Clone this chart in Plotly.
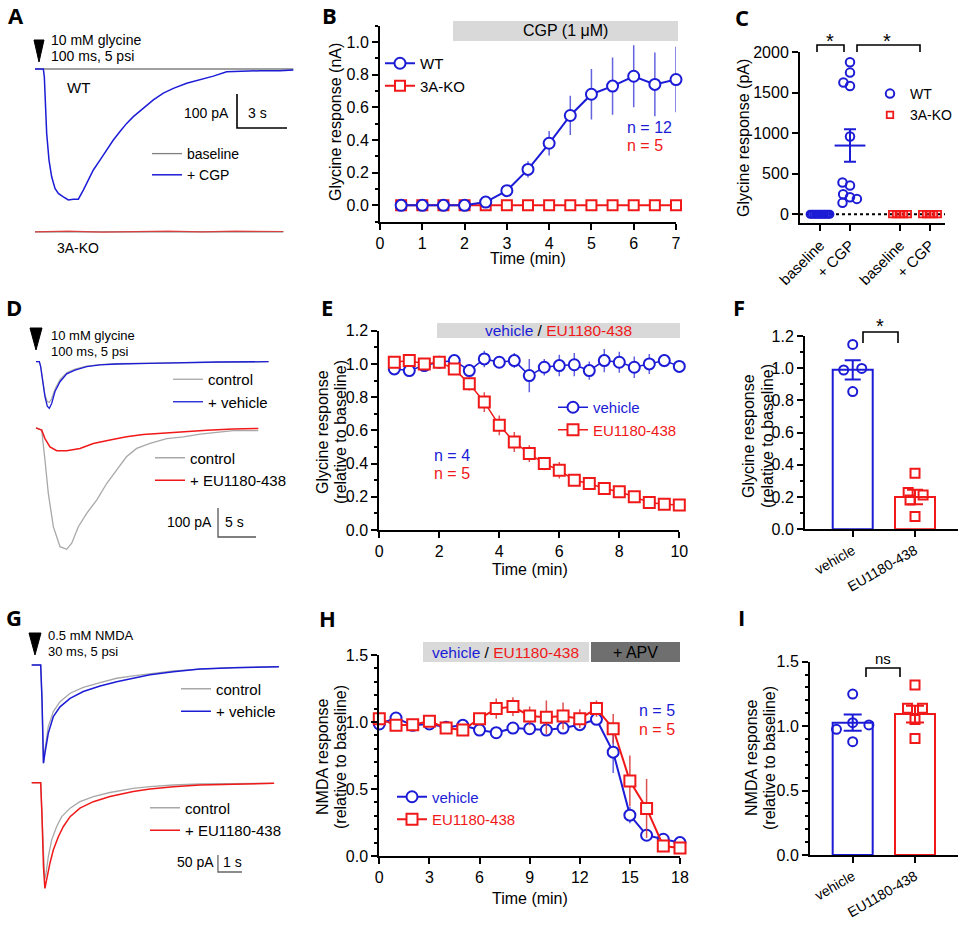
import plotly.graph_objects as go

# ============================ DATA ============================
# Panel A - example glycine currents (time in s, current in pA)
a_time = [0, 0.5, 0.56, 0.6, 0.7, 0.84, 1.0, 1.2, 1.4, 1.7, 2.0, 2.3, 2.6, 2.9, 3.2, 3.5, 3.9,
          4.3, 4.7, 5.1, 5.5, 5.9, 6.5, 7.1, 7.7, 8.3, 9.1, 9.9, 10.7, 11.5, 12.3, 13.5, 14.7, 15.5]
a_wt_cgp = [0, 0, -23, -91, -189, -268, -317, -351, -366, -376, -385, -383, -383, -356, -326, -297, -268,
            -238, -209, -184, -160, -140, -116, -91, -71, -57, -42, -32, -21, -8, -6, -5, -5, -3]
a_wt_base_time = [0, 15.5]
a_wt_base = [0, 0]
a_ko_time = [0, 2, 4, 6, 8, 10, 12, 14.9]
a_ko_base = [0, 0, 0, 0, 0, 0, 0, 0]
a_ko_cgp = [0, 2, -1, 1, 2, 0, 2, 1]

# Panel B - time course (nA)
b_time = [0.5, 1, 1.5, 2, 2.5, 3, 3.5, 4, 4.5, 5, 5.5, 6, 6.5, 7]
b_wt = [0.0, 0.0, 0.0, 0.0, 0.02, 0.09, 0.22, 0.38, 0.55, 0.68, 0.73, 0.79, 0.74, 0.77]
b_wt_sem = [0, 0, 0, 0, 0.01, 0.015, 0.05, 0.075, 0.12, 0.155, 0.175, 0.19, 0.195, 0.20]
b_ko = [0, 0, 0, 0, 0, 0, 0, 0, 0, 0, 0, 0, 0, 0]

# Panel C - individual responses (pA)
c_labels = ['baseline', '+ CGP', 'baseline', '+ CGP']
c_wt_baseline = [0, 0, 0, 0, 0, 0, 0, 0, 0, 0, 0, 0]
c_wt_cgp = [1877, 1749, 1626, 1584, 959, 391, 354, 247, 210, 140, 189]
c_wt_cgp_mean = [848]
c_wt_cgp_sem = [200]
c_ko_baseline = [0, 0, 0, 0, 0]
c_ko_cgp = [0, 0, 0, 0, 0]

# Panel D - example currents (s, pA)
d_top_time = [0, 0.44, 0.61, 0.88, 1.18, 1.49, 1.75, 2.06, 2.5, 3.16, 4.04, 5.13, 6.67, 8.42, 10.6, 15.0, 19.4, 23.8, 30.6]
d_vehicle = [0, 0, -17, -75, -121, -153, -161, -144, -103, -69, -42, -29, -17, -11, -8, -6, -3, -1, 0]
d_vehicle_ctrl = [0, 0, -15, -70, -115, -138, -140, -128, -95, -62, -38, -26, -15, -10, -7, -5, -3, -1, 0]
d_eu_time = [0, 0.75, 1.18, 1.84, 2.72, 4.04, 5.79, 7.54, 9.74, 11.9, 14.1, 17.2, 19.8, 22.5, 25.96, 29.25]
d_eu = [0, -8, -37, -66, -79, -79, -71, -54, -42, -31, -23, -17, -11, -8, -4, -2]
d_eu_ctrl_time = [0, 0.75, 1.18, 1.62, 2.28, 3.16, 4.04, 4.7, 5.57, 6.67, 7.98, 9.3, 10.6, 11.9, 13.25, 15.0,
                  17.2, 19.4, 21.6, 23.8, 25.96, 29.25]
d_eu_ctrl = [0, -8, -111, -226, -341, -410, -419, -398, -341, -295, -249, -192, -146, -100, -71, -54,
             -37, -31, -22, -17, -10, -10]

# Panel E - time course (relative to baseline)
e_time = [0.5, 1, 1.5, 2, 2.5, 3, 3.5, 4, 4.5, 5, 5.5, 6, 6.5, 7, 7.5, 8, 8.5, 9, 9.5, 10]
e_vehicle = [0.97, 0.96, 0.99, 1.01, 1.02, 0.96, 1.03, 1.01, 1.02, 0.93, 0.98, 0.99, 0.995, 0.96, 1.02, 1.01, 0.98, 1.00, 1.02, 0.985]
e_vehicle_sem = [0.015, 0.015, 0.015, 0.015, 0.02, 0.02, 0.05, 0.02, 0.045, 0.1, 0.05, 0.065, 0.07, 0.055, 0.07, 0.063, 0.065, 0.06, 0.04, 0.035]
e_eu = [1.01, 1.02, 1.00, 1.01, 0.97, 0.88, 0.77, 0.63, 0.53, 0.46, 0.40, 0.36, 0.30, 0.28, 0.25, 0.23, 0.20, 0.165, 0.155, 0.15]
e_eu_sem = [0.01, 0.01, 0.01, 0.01, 0.02, 0.04, 0.06, 0.06, 0.06, 0.05, 0.04, 0.05, 0.03, 0.03, 0.03, 0.02, 0.02, 0.02, 0.02, 0.02]

# Panel F - summary (relative to baseline)
f_labels = ['vehicle', 'EU1180-438']
f_vehicle = [1.148, 0.989, 0.999, 0.855]
f_eu = [0.348, 0.228, 0.213, 0.182, 0.079]
f_means = [0.99, 0.20]
f_sems = [0.06, 0.045]

# Panel G - example NMDA currents (s, pA)
g_top_time = [0, 0.375, 0.43, 0.46, 0.49, 0.55, 0.69, 0.9, 1.18, 1.6, 2.15, 2.85, 3.54, 4.23, 4.93, 5.9, 7.01, 8.4, 10.3]
g_vehicle = [0, 0, -103, -201, -289, -260, -201, -152, -123, -98, -78, -62, -49, -39, -29, -20, -12, -8, -5]
g_vehicle_ctrl = [0, 0, -103, -201, -289, -250, -181, -137, -108, -83, -66, -52, -39, -32, -25, -17, -12, -8, -5]
g_eu_time = [0, 0.375, 0.43, 0.49, 0.55, 0.62, 0.76, 0.9, 1.11, 1.32, 1.6, 2.01, 2.57, 3.26, 4.23, 4.93, 5.9, 7.01, 8.4, 10.1]
g_eu = [0, 0, -100, -247, -311, -286, -237, -198, -159, -129, -100, -75, -56, -41, -26, -19, -12, -7, -4, -2]
g_eu_ctrl_time = [0, 0.375, 0.43, 0.49, 0.54, 0.6, 0.69, 0.83, 1.04, 1.25, 1.6, 2.01, 2.57, 3.26, 4.23, 4.93, 5.9, 7.01, 10.1]
g_eu_ctrl = [0, 0, -100, -237, -286, -266, -218, -169, -129, -100, -75, -56, -41, -29, -17, -12, -7, -4, -2]

# Panel H - NMDA time course (relative to baseline)
h_time = [0, 1, 2, 3, 4, 5, 6, 7, 8, 9, 10, 11, 12, 13, 14, 15, 16, 17, 18]
h_vehicle = [0.985, 1.03, 0.975, 0.985, 0.96, 0.975, 0.94, 0.92, 0.955, 0.95, 0.94, 0.955, 0.98, 1.02, 0.775, 0.305, 0.155, 0.125, 0.10]
h_vehicle_sem = [0.01, 0.01, 0.01, 0.01, 0.01, 0.01, 0.01, 0.01, 0.01, 0.01, 0.02, 0.02, 0.02, 0.03, 0.155, 0.06, 0.02, 0.01, 0.01]
h_eu = [1.025, 0.975, 0.98, 1.005, 0.955, 0.94, 1.025, 1.10, 1.115, 1.045, 1.035, 1.045, 1.025, 1.10, 0.95, 0.56, 0.355, 0.075, 0.06]
h_eu_sem = [0.01, 0.01, 0.01, 0.02, 0.02, 0.04, 0.02, 0.075, 0.07, 0.07, 0.125, 0.1, 0.07, 0.06, 0.11, 0.19, 0.22, 0.01, 0.01]

# Panel I - NMDA summary
i_labels = ['vehicle', 'EU1180-438']
i_vehicle = [1.249, 0.975, 1.027, 1.009, 0.879]
i_eu = [1.319, 1.138, 1.138, 1.052, 0.905]
i_means = [1.027, 1.094]
i_sems = [0.063, 0.065]

# ============================ STYLE / LAYOUT ============================
W, H = 959, 927
def X(px): return px / W
def Y(py): return 1 - py / H

FONT = 'Liberation Sans, Arial, Helvetica, sans-serif'
LFONT = 'Open Sans, Liberation Sans, sans-serif'
BLUE = '#1c1cd6'
RED = '#f01818'
LGRAY = '#a8a8a8'
DGRAY = '#808080'
BLUE_ERR = 'rgba(60,60,215,0.8)'
RED_ERR = 'rgba(215,50,50,0.85)'

fig = go.Figure()
layout = {}

def akey(kind, n):
    return kind if n == 1 else f'{kind}{n}'

def ref(kind, n):
    return kind if n == 1 else f'{kind}{n}'

def hidden_axes(n, box, t0px, pps, i0py, ppa):
    x0, x1, y0, y1 = box
    xr = [(x0 - t0px) / pps, (x1 - t0px) / pps]
    yr = [(i0py - y1) / ppa, (i0py - y0) / ppa]
    layout[akey('xaxis', n)] = dict(domain=[X(x0), X(x1)], range=xr, visible=False, fixedrange=True, anchor=ref('y', n))
    layout[akey('yaxis', n)] = dict(domain=[Y(y1), Y(y0)], range=yr, visible=False, fixedrange=True, anchor=ref('x', n))

def vis_axis(domain, rng, anchor, dtick=None, fmt=None, minor=None, size=16, **kw):
    d = dict(domain=domain, range=rng, anchor=anchor, showline=True, linecolor='black', linewidth=2,
             ticks='outside', ticklen=6, tickwidth=2, tickcolor='black', showgrid=False, zeroline=False,
             tickfont=dict(family=FONT, size=size, color='black'), fixedrange=True)
    if dtick is not None:
        d.update(tickmode='linear', tick0=0, dtick=dtick)
    if fmt:
        d['tickformat'] = fmt
    if minor:
        d['minor'] = dict(dtick=minor, tick0=0, ticks='outside', ticklen=3.5, tickwidth=1.5,
                          tickcolor='black', showgrid=False)
    d.update(kw)
    return d

# trace panels (hidden axes, units s / pA)
hidden_axes(1, (0, 320, 0, 300), 35, 16.667, 69, 0.34)
hidden_axes(4, (0, 320, 300, 600), 36, 7.6, 361.7, 0.29)
hidden_axes(7, (0, 320, 600, 927), 31.7, 24, 665, 0.34)
A_KO_OFFSET = -479
D_BOTTOM_OFFSET = -228
G_BOTTOM_OFFSET = -346

# B
layout['xaxis2'] = vis_axis([X(380), X(676)], [0, 7], 'y2', dtick=1)
layout['yaxis2'] = vis_axis([Y(221.7), Y(25.6)], [-0.1, 1.1], 'x2', dtick=0.2, fmt='.1f', minor=0.1)
# C
c_pos = [1, 2, 3.667, 4.667]
layout['xaxis3'] = vis_axis([X(800), X(945)], [0.333, 5.167], 'y3', tickmode='array', tickvals=c_pos,
                            ticktext=c_labels, tickangle=-45, size=15)
layout['yaxis3'] = vis_axis([Y(222.7), Y(52.3)], [-105, 2000], 'x3', dtick=500)
# E
layout['xaxis5'] = vis_axis([X(379.3), X(679.3)], [0, 10], 'y5', dtick=2)
layout['yaxis5'] = vis_axis([Y(530), Y(330.7)], [0, 1.2], 'x5', dtick=0.2, fmt='.1f', minor=0.1)
# F
layout['xaxis6'] = vis_axis([X(805), X(958)], [0.234, 2.69], 'y6', tickmode='array', tickvals=[1, 2],
                            ticktext=f_labels, tickangle=-30, size=14)
layout['yaxis6'] = vis_axis([Y(529.3), Y(336)], [0, 1.2], 'x6', dtick=0.2, fmt='.1f', minor=0.1)
# H
layout['xaxis8'] = vis_axis([X(379.3), X(680)], [0, 18], 'y8', dtick=3)
layout['yaxis8'] = vis_axis([Y(856), Y(655)], [0, 1.5], 'x8', dtick=0.5, fmt='.1f', minor=0.1)
# I
layout['xaxis9'] = vis_axis([X(810), X(958)], [0.315, 2.69], 'y9', tickmode='array', tickvals=[1, 2],
                            ticktext=i_labels, tickangle=-30, size=14)
layout['yaxis9'] = vis_axis([Y(855), Y(661.7)], [0, 1.5], 'x9', dtick=0.5, fmt='.1f', minor=0.1)

def leg(px, py, size=15):
    return dict(x=X(px), y=Y(py), xanchor='left', yanchor='top', bgcolor='rgba(0,0,0,0)', borderwidth=0,
                font=dict(family=FONT, size=size, color='black'), traceorder='normal')

layout['legend'] = leg(147, 138, 14)     # A
layout['legend2'] = leg(380, 47)         # B
layout['legend3'] = leg(870, 78, 14)     # C
layout['legend4'] = leg(168, 363)        # D top
layout['legend5'] = leg(150, 441.5)      # D bottom
layout['legend6'] = leg(553, 391)        # E
layout['legend7'] = leg(176, 672.5)      # G top
layout['legend8'] = leg(145, 791.5)      # G bottom
layout['legend9'] = leg(392, 780.5)      # H

def offset(vals, off):
    return [v + off for v in vals]

# ---------------- Panel A traces ----------------
fig.add_trace(go.Scatter(x=a_wt_base_time, y=a_wt_base, mode='lines', line=dict(color=DGRAY, width=1.3),
                         name='baseline', legend='legend', xaxis='x', yaxis='y'))
fig.add_trace(go.Scatter(x=a_time, y=a_wt_cgp, mode='lines', line=dict(color=BLUE, width=1.5),
                         name='+ CGP', legend='legend', xaxis='x', yaxis='y'))
fig.add_trace(go.Scatter(x=a_ko_time, y=offset(a_ko_base, A_KO_OFFSET), mode='lines',
                         line=dict(color=DGRAY, width=1.2), showlegend=False, xaxis='x', yaxis='y'))
fig.add_trace(go.Scatter(x=a_ko_time, y=offset(a_ko_cgp, A_KO_OFFSET), mode='lines',
                         line=dict(color='rgba(230,40,40,0.8)', width=1.2), showlegend=False, xaxis='x', yaxis='y'))

# ---------------- Panel B ----------------
fig.add_trace(go.Scatter(x=b_time, y=b_ko, mode='lines+markers', name='3A-KO', legend='legend2', legendrank=2,
                         line=dict(color=RED, width=2),
                         marker=dict(symbol='square', size=10, color='white', line=dict(color=RED, width=2)),
                         cliponaxis=False, xaxis='x2', yaxis='y2'))
fig.add_trace(go.Scatter(x=b_time, y=b_wt, mode='lines+markers', name='WT', legend='legend2', legendrank=1,
                         line=dict(color=BLUE, width=2),
                         marker=dict(symbol='circle', size=11, color='white', line=dict(color=BLUE, width=2)),
                         error_y=dict(type='data', array=b_wt_sem, color=BLUE_ERR, thickness=1.5, width=0),
                         cliponaxis=False, xaxis='x2', yaxis='y2'))

# ---------------- Panel C ----------------
blob12 = [-0.33, -0.27, -0.21, -0.15, -0.09, -0.03, 0.03, 0.09, 0.15, 0.21, 0.27, 0.33]
jit_cgp = [0, 0, -0.22, 0, 0, -0.25, 0, -0.23, 0, -0.25, 0.23]
blob5 = [-0.26, -0.13, 0, 0.13, 0.26]
fig.add_trace(go.Scatter(x=[c_pos[0] + j for j in blob12], y=c_wt_baseline, mode='markers', showlegend=False,
                         marker=dict(symbol='circle-open', size=7, color=BLUE, line=dict(width=2)),
                         cliponaxis=False, xaxis='x3', yaxis='y3'))
fig.add_trace(go.Scatter(x=[c_pos[1] + j for j in jit_cgp], y=c_wt_cgp, mode='markers', name='WT',
                         legend='legend3', legendrank=1,
                         marker=dict(symbol='circle-open', size=8.5, color=BLUE, line=dict(width=2)),
                         cliponaxis=False, xaxis='x3', yaxis='y3'))
fig.add_trace(go.Scatter(x=[c_pos[1]], y=c_wt_cgp_mean, mode='markers', showlegend=False,
                         marker=dict(symbol='line-ew-open', size=22, color=BLUE, line=dict(width=2, color=BLUE)),
                         error_y=dict(type='data', array=c_wt_cgp_sem, color=BLUE, thickness=2, width=6),
                         cliponaxis=False, xaxis='x3', yaxis='y3'))
fig.add_trace(go.Scatter(x=[c_pos[2] + j for j in blob5], y=c_ko_baseline, mode='markers', name='3A-KO',
                         legend='legend3', legendrank=2,
                         marker=dict(symbol='square-open', size=6.5, color=RED, line=dict(width=1.8)),
                         cliponaxis=False, xaxis='x3', yaxis='y3'))
fig.add_trace(go.Scatter(x=[c_pos[3] + j for j in blob5], y=c_ko_cgp, mode='markers', showlegend=False,
                         marker=dict(symbol='square-open', size=6.5, color=RED, line=dict(width=1.8)),
                         cliponaxis=False, xaxis='x3', yaxis='y3'))

# ---------------- Panel D traces ----------------
fig.add_trace(go.Scatter(x=d_top_time, y=d_vehicle_ctrl, mode='lines', name='control', legend='legend4',
                         line=dict(color=LGRAY, width=1.3), xaxis='x4', yaxis='y4'))
fig.add_trace(go.Scatter(x=d_top_time, y=d_vehicle, mode='lines', name='+ vehicle', legend='legend4',
                         line=dict(color=BLUE, width=1.3), xaxis='x4', yaxis='y4'))
fig.add_trace(go.Scatter(x=d_eu_ctrl_time, y=offset(d_eu_ctrl, D_BOTTOM_OFFSET), mode='lines', name='control',
                         legend='legend5', line=dict(color=LGRAY, width=1.3), xaxis='x4', yaxis='y4'))
fig.add_trace(go.Scatter(x=d_eu_time, y=offset(d_eu, D_BOTTOM_OFFSET), mode='lines', name='+ EU1180-438',
                         legend='legend5', line=dict(color=RED, width=1.5), xaxis='x4', yaxis='y4'))

# ---------------- Panel E ----------------
fig.add_trace(go.Scatter(x=e_time, y=e_vehicle, mode='lines+markers', legend='legend6', legendrank=1,
                         name="<span style='color:%s'>vehicle</span>" % BLUE,
                         line=dict(color=BLUE, width=1.5),
                         marker=dict(symbol='circle', size=11, color='white', line=dict(color=BLUE, width=2)),
                         error_y=dict(type='data', array=e_vehicle_sem, color=BLUE_ERR, thickness=1.5, width=0),
                         cliponaxis=False, xaxis='x5', yaxis='y5'))
fig.add_trace(go.Scatter(x=e_time, y=e_eu, mode='lines+markers', legend='legend6', legendrank=2,
                         name="<span style='color:%s'>EU1180-438</span>" % RED,
                         line=dict(color=RED, width=1.5),
                         marker=dict(symbol='square', size=11, color='white', line=dict(color=RED, width=2)),
                         error_y=dict(type='data', array=e_eu_sem, color=RED_ERR, thickness=1.5, width=0),
                         cliponaxis=False, xaxis='x5', yaxis='y5'))

# ---------------- Panel F ----------------
f_jit_v = [0, -0.145, 0.145, 0]
f_jit_e = [0, -0.11, 0.13, -0.08, 0]
fig.add_trace(go.Bar(x=[1], y=[f_means[0]], width=0.642, showlegend=False,
                     marker=dict(color='white', line=dict(color=BLUE, width=2)),
                     error_y=dict(type='data', array=[f_sems[0]], color=BLUE, thickness=2, width=8),
                     xaxis='x6', yaxis='y6'))
fig.add_trace(go.Bar(x=[2], y=[f_means[1]], width=0.642, showlegend=False,
                     marker=dict(color='white', line=dict(color=RED, width=2)),
                     error_y=dict(type='data', array=[f_sems[1]], color=RED, thickness=2, width=8),
                     xaxis='x6', yaxis='y6'))
fig.add_trace(go.Scatter(x=[1 + j for j in f_jit_v], y=f_vehicle, mode='markers', showlegend=False,
                         marker=dict(symbol='circle-open', size=9, color=BLUE, line=dict(width=2)),
                         cliponaxis=False, xaxis='x6', yaxis='y6'))
fig.add_trace(go.Scatter(x=[2 + j for j in f_jit_e], y=f_eu, mode='markers', showlegend=False,
                         marker=dict(symbol='square-open', size=9, color=RED, line=dict(width=2)),
                         cliponaxis=False, xaxis='x6', yaxis='y6'))

# ---------------- Panel G traces ----------------
fig.add_trace(go.Scatter(x=g_top_time, y=g_vehicle_ctrl, mode='lines', name='control', legend='legend7',
                         line=dict(color=LGRAY, width=1.3), xaxis='x7', yaxis='y7'))
fig.add_trace(go.Scatter(x=g_top_time, y=g_vehicle, mode='lines', name='+ vehicle', legend='legend7',
                         line=dict(color=BLUE, width=1.5), xaxis='x7', yaxis='y7'))
fig.add_trace(go.Scatter(x=g_eu_ctrl_time, y=offset(g_eu_ctrl, G_BOTTOM_OFFSET), mode='lines', name='control',
                         legend='legend8', line=dict(color=LGRAY, width=1.3), xaxis='x7', yaxis='y7'))
fig.add_trace(go.Scatter(x=g_eu_time, y=offset(g_eu, G_BOTTOM_OFFSET), mode='lines', name='+ EU1180-438',
                         legend='legend8', line=dict(color=RED, width=1.5), xaxis='x7', yaxis='y7'))

# ---------------- Panel H ----------------
fig.add_trace(go.Scatter(x=h_time, y=h_vehicle, mode='lines+markers', legend='legend9', legendrank=1,
                         name="<span style='color:%s'>vehicle</span>" % BLUE,
                         line=dict(color=BLUE, width=2),
                         marker=dict(symbol='circle', size=11, color='white', line=dict(color=BLUE, width=2)),
                         error_y=dict(type='data', array=h_vehicle_sem, color=BLUE_ERR, thickness=1.5, width=0),
                         cliponaxis=False, xaxis='x8', yaxis='y8'))
fig.add_trace(go.Scatter(x=h_time, y=h_eu, mode='lines+markers', legend='legend9', legendrank=2,
                         name="<span style='color:%s'>EU1180-438</span>" % RED,
                         line=dict(color=RED, width=2),
                         marker=dict(symbol='square', size=11, color='white', line=dict(color=RED, width=2)),
                         error_y=dict(type='data', array=h_eu_sem, color=RED_ERR, thickness=1.5, width=0),
                         cliponaxis=False, xaxis='x8', yaxis='y8'))

# ---------------- Panel I ----------------
i_jit_v = [0, -0.26, 0, 0.26, 0]
i_jit_e = [0, -0.12, 0.12, 0, 0]
fig.add_trace(go.Bar(x=[1], y=[i_means[0]], width=0.642, showlegend=False,
                     marker=dict(color='white', line=dict(color=BLUE, width=2)),
                     error_y=dict(type='data', array=[i_sems[0]], color=BLUE, thickness=2, width=9),
                     xaxis='x9', yaxis='y9'))
fig.add_trace(go.Bar(x=[2], y=[i_means[1]], width=0.642, showlegend=False,
                     marker=dict(color='white', line=dict(color=RED, width=2)),
                     error_y=dict(type='data', array=[i_sems[1]], color=RED, thickness=2, width=9),
                     xaxis='x9', yaxis='y9'))
fig.add_trace(go.Scatter(x=[1 + j for j in i_jit_v], y=i_vehicle, mode='markers', showlegend=False,
                         marker=dict(symbol='circle-open', size=9, color=BLUE, line=dict(width=2)),
                         cliponaxis=False, xaxis='x9', yaxis='y9'))
fig.add_trace(go.Scatter(x=[2 + j for j in i_jit_e], y=i_eu, mode='markers', showlegend=False,
                         marker=dict(symbol='square-open', size=9, color=RED, line=dict(width=2)),
                         cliponaxis=False, xaxis='x9', yaxis='y9'))

# ============================ SHAPES ============================
shapes = []
def rect_px(x0, y0, x1, y1, color):
    shapes.append(dict(type='rect', xref='paper', yref='paper', x0=X(x0), x1=X(x1), y0=Y(y1), y1=Y(y0),
                       fillcolor=color, line=dict(width=0), layer='below'))

def path_px(pts, color, width, fill=None):
    d = 'M ' + ' L '.join('%.5f,%.5f' % (X(a), Y(b)) for a, b in pts)
    if fill:
        d += ' Z'
    shapes.append(dict(type='path', xref='paper', yref='paper', path=d, line=dict(color=color, width=width),
                       fillcolor=fill if fill else 'rgba(0,0,0,0)'))

def scalebar(xr, yr, t_corner, i_corner, t_len, i_len, color, width):
    d = 'M %g,%g L %g,%g L %g,%g' % (t_corner, i_corner + i_len, t_corner, i_corner, t_corner + t_len, i_corner)
    shapes.append(dict(type='path', xref=xr, yref=yr, path=d, line=dict(color=color, width=width)))

# drug application bars
rect_px(453, 21, 678, 41, '#d9d9d9')
rect_px(437, 323, 680, 338, '#d9d9d9')
rect_px(423, 642, 589, 662, '#d9d9d9')
rect_px(591, 642, 680, 662, '#6f6f6f')

# puff arrowheads
path_px([(34, 40), (44, 40), (39, 62)], 'black', 1, fill='black')
path_px([(30, 328), (42, 328), (36, 350)], 'black', 1, fill='black')
path_px([(29, 633), (41, 633), (35, 655)], 'black', 1, fill='black')

# scale bars (3 s / 100 pA, 5 s / 100 pA, 1 s / 50 pA)
scalebar('x', 'y', 12.12, -173.5, 3, 100, 'black', 1.6)
scalebar('x4', 'y4', 23.95, -604.5, 5, 100, '#555555', 1.3)
scalebar('x7', 'y7', 7.76, -608.8, 1, 50, '#666666', 1.3)

# zero dotted line in C
shapes.append(dict(type='line', xref='x3 domain', yref='y3', x0=0, x1=1, y0=0, y1=0,
                   line=dict(color='black', width=2, dash='dot'), layer='below'))

# significance brackets
path_px([(817, 52), (817, 45), (844, 45), (844, 52)], 'black', 1.6)
path_px([(857, 52), (857, 45), (920, 45), (920, 52)], 'black', 1.6)
path_px([(863, 343), (863, 332), (898, 332), (898, 343)], 'black', 1.6)
path_px([(866, 677), (866, 668), (900, 668), (900, 677)], 'black', 1.6)

# ============================ TEXT ============================
annots = []
def txt(px, py, text, size=16, color='black', xanchor='left', family=FONT, angle=0):
    annots.append(dict(x=X(px), y=Y(py), xref='paper', yref='paper', text=text, showarrow=False,
                       xanchor=xanchor, yanchor='middle', textangle=angle,
                       font=dict(family=family, size=size, color=color)))

# panel letters
for lab, px, py in [('A', 15.5, 15), ('B', 329, 15), ('C', 742, 17), ('D', 14, 307), ('E', 327, 307),
                    ('F', 739, 307), ('G', 14, 617), ('H', 327, 618), ('I', 741, 617)]:
    txt(px, py, '<b>%s</b>' % lab, 22, 'black', 'center', LFONT)

# A
txt(49, 40, '10 mM glycine', 14)
txt(49, 56, '100 ms, 5 psi', 14)
txt(65, 87, 'WT', 15)
txt(55, 248, '3A-KO', 14)
txt(231, 113, '100 pA', 14, xanchor='right')
txt(246, 113, '3 s', 14)
# B
txt(565, 31, 'CGP (1 μM)', 16, xanchor='center')
txt(625, 128, 'n = 12', 16, BLUE)
txt(625, 146, 'n = 5', 16, RED)
txt(335, 122, 'Glycine response (nA)', 16, xanchor='center', angle=-90)
txt(528, 258, 'Time (min)', 16, xanchor='center')
# C
txt(743, 138, 'Glycine response (pA)', 16, xanchor='center', angle=-90)
txt(830, 41, '*', 20, xanchor='center')
txt(887, 41, '*', 20, xanchor='center')
# D
txt(49, 335, '10 mM glycine', 13)
txt(49, 351, '100 ms, 5 psi', 13)
txt(214, 522, '100 pA', 14, xanchor='right')
txt(223, 522, '5 s', 14)
# E
txt(558, 330, "<span style='color:%s'>vehicle</span> / <span style='color:%s'>EU1180-438</span>" % (BLUE, RED),
    15.5, xanchor='center')
txt(432, 455, 'n = 4', 16, BLUE)
txt(432, 473, 'n = 5', 16, RED)
txt(322, 432, 'Glycine response', 16, xanchor='center', angle=-90)
txt(340, 432, '(relative to baseline)', 16, xanchor='center', angle=-90)
txt(530, 569, 'Time (min)', 16, xanchor='center')
# F
txt(880, 326, '*', 20, xanchor='center')
txt(748, 436, 'Glycine response', 16, xanchor='center', angle=-90)
txt(767, 436, '(relative to baseline)', 16, xanchor='center', angle=-90)
# G
txt(46, 635, '0.5 mM NMDA', 13)
txt(46, 651, '30 ms, 5 psi', 13)
txt(216, 862, '50 pA', 14, xanchor='right')
txt(221, 862, '1 s', 14)
# H
txt(505, 652, "<span style='color:%s'>vehicle</span> / <span style='color:%s'>EU1180-438</span>" % (BLUE, RED),
    15.5, xanchor='center')
txt(635, 652, '+ APV', 16, xanchor='center')
txt(637, 710, 'n = 5', 16, BLUE)
txt(637, 729, 'n = 5', 16, RED)
txt(322, 757, 'NMDA response', 16, xanchor='center', angle=-90)
txt(340, 757, '(relative to baseline)', 16, xanchor='center', angle=-90)
txt(530, 898, 'Time (min)', 16, xanchor='center')
# I
txt(883, 658, 'ns', 15, xanchor='center')
txt(751, 758, 'NMDA response', 16, xanchor='center', angle=-90)
txt(769, 758, '(relative to baseline)', 16, xanchor='center', angle=-90)

fig.update_layout(**layout)
fig.update_layout(width=W, height=H, margin=dict(l=0, r=0, t=0, b=0, autoexpand=False),
                  paper_bgcolor='white', plot_bgcolor='white', barmode='overlay', showlegend=True,
                  shapes=shapes, annotations=annots, font=dict(family=FONT, color='black'))

fig.write_html('out.html', config={'displayModeBar': False},
               post_script="document.body.style.margin='0';")
